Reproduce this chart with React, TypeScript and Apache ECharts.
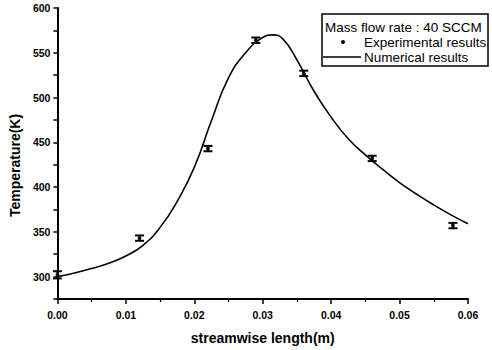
import React, { useEffect, useRef } from "react";
import * as echarts from "echarts";

// Numerical results (curve): [x (m), T (K)]
const numericalX = [0, 0.0025, 0.005, 0.0075, 0.01, 0.0125, 0.015, 0.0175, 0.02, 0.0225, 0.025, 0.0275, 0.03, 0.0315, 0.033, 0.035, 0.0375, 0.04, 0.0425, 0.045, 0.0475, 0.05, 0.0525, 0.055, 0.0575, 0.06];
const numericalY = [300, 304, 309, 315, 323, 335, 355, 384, 422, 474, 522, 550, 567, 570, 565, 542, 507, 478, 454, 436, 420, 405, 392, 380, 369, 359];

// Experimental results
const expX = [0, 0.012, 0.022, 0.029, 0.036, 0.046, 0.0578];
const expY = [302, 343, 443, 564, 527, 432, 357];
const expErr = [4, 3, 3, 3, 3, 3, 3];

const xTicks = [0, 0.01, 0.02, 0.03, 0.04, 0.05, 0.06];

const legendTitle = "Mass flow rate : 40 SCCM";
const legendExp = "Experimental results";
const legendNum = "Numerical results";

const FONT = "'Liberation Sans', Arial, sans-serif";

export default function App() {
  const ref = useRef<HTMLDivElement>(null);
  useEffect(() => {
    if (!ref.current) return;
    const chart = echarts.init(ref.current, undefined, { renderer: "svg" });
    const numData = numericalX.map((x, i) => [x, numericalY[i]]);
    const expData = expX.map((x, i) => [x, expY[i]]);
    const errData = expX.map((x, i) => [x, expY[i] - expErr[i], expY[i] + expErr[i]]);
    chart.setOption({
      animation: false,
      backgroundColor: "#ffffff",
      grid: { left: 53, right: 24, top: 8, bottom: 50 },
      xAxis: {
        type: "value",
        min: 0,
        max: 0.06,
        interval: 0.01,
        name: "streamwise length(m)",
        nameLocation: "middle",
        nameGap: 32,
        nameTextStyle: { fontFamily: FONT, fontSize: 14, color: "#000", fontWeight: "bold" },
        axisLine: { show: true, lineStyle: { color: "#000", width: 2 } },
        axisTick: { show: true, length: 5, lineStyle: { color: "#000", width: 1.5 } },
        minorTick: { show: true, splitNumber: 2, length: 3, lineStyle: { color: "#000", width: 1.2 } },
        splitLine: { show: false },
        axisLabel: {
          fontFamily: FONT,
          fontSize: 10.5,
          fontWeight: "bold",
          color: "#000",
          margin: 10,
          formatter: (v: number) => {
            const t = xTicks.find((k) => Math.abs(k - v) < 1e-9);
            return t === undefined ? "" : t.toFixed(2);
          },
        },
      },
      yAxis: {
        type: "value",
        min: 275,
        max: 600,
        interval: 25,
        name: "Temperature(K)",
        nameLocation: "middle",
        nameGap: 30,
        nameTextStyle: { fontFamily: FONT, fontSize: 14, color: "#000", fontWeight: "bold", padding: [0, 24, 0, 0] },
        axisLine: { show: true, lineStyle: { color: "#000", width: 2 } },
        axisTick: { show: true, length: 4, lineStyle: { color: "#000", width: 1.5 } },
        splitLine: { show: false },
        axisLabel: {
          fontFamily: FONT,
          fontSize: 10.5,
          fontWeight: "bold",
          color: "#000",
          margin: 7,
          formatter: (v: number) => (v % 50 === 0 ? String(v) : ""),
        },
      },
      series: [
        {
          name: legendNum,
          type: "line",
          data: numData,
          smooth: 0.5,
          showSymbol: false,
          lineStyle: { color: "#000", width: 1.6 },
          z: 2,
        },
        {
          name: legendExp,
          type: "scatter",
          data: expData,
          symbol: "circle",
          symbolSize: 4,
          itemStyle: { color: "#000" },
          z: 3,
        },
        {
          name: "error",
          type: "custom",
          data: errData,
          z: 4,
          renderItem: (params: any, api: any) => {
            const x = api.value(0);
            const lo = api.coord([x, api.value(1)]);
            const hi = api.coord([x, api.value(2)]);
            const hw = 4.5;
            const style = { stroke: "#000", lineWidth: 2 };
            return {
              type: "group",
              children: [
                { type: "line", shape: { x1: lo[0], y1: lo[1], x2: hi[0], y2: hi[1] }, style },
                { type: "line", shape: { x1: lo[0] - hw, y1: lo[1], x2: lo[0] + hw, y2: lo[1] }, style },
                { type: "line", shape: { x1: hi[0] - hw, y1: hi[1], x2: hi[0] + hw, y2: hi[1] }, style },
              ],
            };
          },
        },
      ],
      graphic: [
        {
          type: "rect",
          shape: { x: 322, y: 14, width: 166, height: 52 },
          style: { fill: "#fff", stroke: "#000", lineWidth: 1.5 },
          z: 10,
        },
        {
          type: "text",
          x: 325,
          y: 27,
          style: { text: legendTitle, fontFamily: FONT, fontSize: 13.5, fill: "#000", verticalAlign: "middle" },
          z: 11,
        },
        {
          type: "circle",
          shape: { cx: 343, cy: 42, r: 2 },
          style: { fill: "#000" },
          z: 11,
        },
        {
          type: "text",
          x: 364,
          y: 42,
          style: { text: legendExp, fontFamily: FONT, fontSize: 13.5, fill: "#000", verticalAlign: "middle" },
          z: 11,
        },
        {
          type: "line",
          shape: { x1: 323, y1: 57, x2: 361, y2: 57 },
          style: { stroke: "#000", lineWidth: 1.3 },
          z: 11,
        },
        {
          type: "text",
          x: 364,
          y: 57,
          style: { text: legendNum, fontFamily: FONT, fontSize: 13.5, fill: "#000", verticalAlign: "middle" },
          z: 11,
        },
      ],
    });
    return () => chart.dispose();
  }, []);
  return (
    <div
      ref={ref}
      style={{ position: "absolute", left: 0, top: 0, width: 492, height: 350, background: "#fff" }}
    />
  );
}
